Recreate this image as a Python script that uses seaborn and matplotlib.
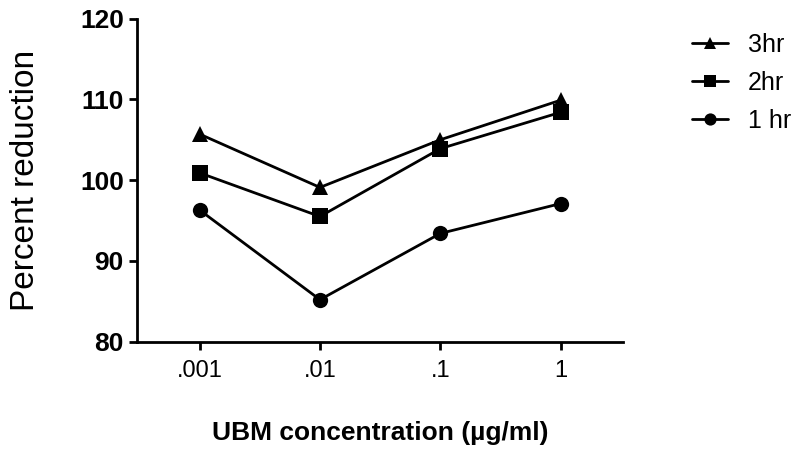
import matplotlib
matplotlib.use("Agg")
import matplotlib.pyplot as plt
import seaborn as sns
import pandas as pd

concentrations = [".001", ".01", ".1", "1"]
series_names = ["3hr", "2hr", "1 hr"]
values_3hr = [105.7, 99.1, 105.0, 109.9]
values_2hr = [100.9, 95.5, 103.9, 108.4]
values_1hr = [96.3, 85.2, 93.4, 97.1]
y_ticks = [80, 90, 100, 110, 120]

rows = []
for name, vals in zip(series_names, [values_3hr, values_2hr, values_1hr]):
    for i, (c, v) in enumerate(zip(concentrations, vals)):
        rows.append({"pos": i, "conc": c, "value": v, "series": name})
df = pd.DataFrame(rows)

sns.set_style("ticks")
plt.rcParams["font.family"] = ["Liberation Sans", "DejaVu Sans"]
plt.rcParams.update({"text.color": "black", "axes.labelcolor": "black",
                     "xtick.color": "black", "ytick.color": "black",
                     "axes.edgecolor": "black"})

fig = plt.figure(figsize=(7.99, 4.54), dpi=100)
ax = fig.add_axes([0.1715, 0.2474, 0.6085, 0.7116])

sns.lineplot(data=df, x="pos", y="value", hue="series", style="series",
             hue_order=series_names, style_order=series_names,
             palette=["black"] * 3, markers={"3hr": "^", "2hr": "s", "1 hr": "o"},
             dashes=False, linewidth=2, markersize=11, markeredgewidth=0,
             ax=ax, legend=True)

ax.set_xlim(-0.52, 3.52)
ax.set_ylim(80, 120)
ax.set_xticks(range(len(concentrations)))
ax.set_xticklabels(concentrations, fontsize=17)
ax.set_yticks(y_ticks)
ax.set_yticklabels([str(t) for t in y_ticks], fontsize=19, fontweight="bold")
for s in ["top", "right"]:
    ax.spines[s].set_visible(False)
for s in ["left", "bottom"]:
    ax.spines[s].set_linewidth(2)
    ax.spines[s].set_color("black")
ax.tick_params(axis="both", width=2, length=6, color="black", labelcolor="black")
ax.tick_params(axis="x", pad=7)

ax.set_xlabel("UBM concentration (µg/ml)", fontsize=19, fontweight="bold", labelpad=28, color="black")
ax.set_ylabel("Percent reduction", fontsize=24, labelpad=28, color="black")

handles, labels = ax.get_legend_handles_labels()
leg = ax.legend(handles, labels, loc="upper left", bbox_to_anchor=(1.095, 1.025),
                frameon=False, fontsize=18, handlelength=1.45, handletextpad=0.8,
                labelspacing=0.56, markerscale=0.8)
for t in leg.get_texts():
    t.set_color("black")

fig.savefig("out.png", dpi=100)
